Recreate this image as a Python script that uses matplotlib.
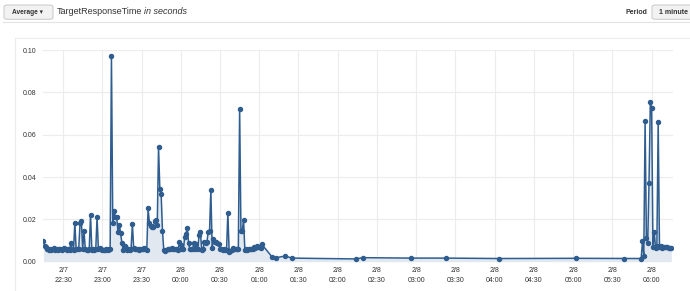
"""CloudWatch-style TargetResponseTime chart (1 minute averages)."""
import numpy as np
import pandas as pd
import matplotlib
matplotlib.use("Agg")
import matplotlib.pyplot as plt
import matplotlib.dates as mdates
from matplotlib.patches import FancyBboxPatch
from matplotlib.lines import Line2D

plt.rcParams["font.family"] = ["Liberation Sans", "DejaVu Sans"]

# ---- data -----------------------------------------------------------------
# first dense block: one point per minute starting 2/7 22:15
block1_start = "2018-02-07 22:15"
block1_values = [
    0.0098, 0.0076, 0.0070, 0.0062, 0.0056, 0.0058, 0.0055, 0.0060, 0.0065, 0.0056,
    0.0058, 0.0055, 0.0060, 0.0058, 0.0056, 0.0062, 0.0067, 0.0058, 0.0056, 0.0060,
    0.0057, 0.0087, 0.0058, 0.0056, 0.0184, 0.0060, 0.0058, 0.0062, 0.0184, 0.0190,
    0.0060, 0.0144, 0.0062, 0.0057, 0.0055, 0.0058, 0.0220, 0.0057, 0.0060, 0.0056,
    0.0058, 0.0212, 0.0060, 0.0064, 0.0058, 0.0056, 0.0057, 0.0055, 0.0058, 0.0056,
    0.0060, 0.0062, 0.0970, 0.0183, 0.0238, 0.0210, 0.0212, 0.0140, 0.0175, 0.0135,
    0.0087, 0.0055, 0.0074, 0.0066, 0.0056, 0.0060, 0.0055, 0.0062, 0.0176, 0.0065,
    0.0060, 0.0058, 0.0060, 0.0057, 0.0060, 0.0062, 0.0060, 0.0065, 0.0060, 0.0055,
    0.0252, 0.0185, 0.0170, 0.0165, 0.0163, 0.0190, 0.0195, 0.0172, 0.0540, 0.0342,
    0.0320, 0.0147, 0.0055, 0.0050, 0.0055, 0.0058, 0.0062, 0.0060, 0.0065, 0.0062,
    0.0058, 0.0060, 0.0062, 0.0056, 0.0094, 0.0080, 0.0062, 0.0058, 0.0115, 0.0132,
    0.0160, 0.0087, 0.0058, 0.0060, 0.0062, 0.0087, 0.0060, 0.0085, 0.0060, 0.0126,
    0.0138, 0.0057, 0.0058, 0.0092, 0.0090, 0.0095, 0.0140, 0.0145, 0.0340, 0.0063,
    0.0105, 0.0095, 0.0092, 0.0090, 0.0085, 0.0060, 0.0058, 0.0055, 0.0060, 0.0056,
    0.0055, 0.0232, 0.0045, 0.0050, 0.0056, 0.0063, 0.0060, 0.0058, 0.0060, 0.0058,
    0.0720, 0.0145, 0.0145, 0.0198, 0.0055, 0.0058, 0.0056, 0.0058, 0.0060, 0.0062,
    0.0060, 0.0068, 0.0064, 0.0072, 0.0068, 0.0070, 0.0066, 0.0082,
]
# sparse points overnight
sparse_times = ["2018-02-08 01:10", "2018-02-08 01:13", "2018-02-08 01:20",
                "2018-02-08 01:25", "2018-02-08 02:14", "2018-02-08 02:19",
                "2018-02-08 02:56", "2018-02-08 03:23", "2018-02-08 04:03",
                "2018-02-08 05:02", "2018-02-08 05:39", "2018-02-08 05:52"]
sparse_values = [0.0021, 0.0019, 0.0027, 0.0017, 0.0013, 0.0019,
                 0.0017, 0.0017, 0.0015, 0.0016, 0.0015, 0.0015]
# second dense block: one point per minute starting 2/8 05:53
block2_start = "2018-02-08 05:53"
block2_values = [
    0.0096, 0.0028, 0.0663, 0.0110, 0.0088, 0.0373, 0.0755, 0.0724, 0.0068, 0.0140,
    0.0065, 0.0072, 0.0661, 0.0070, 0.0072, 0.0066, 0.0070, 0.0068, 0.0070, 0.0068,
    0.0067, 0.0067, 0.0066,
]

y_ticks = [0.00, 0.02, 0.04, 0.06, 0.08, 0.10]

s1 = pd.Series(block1_values,
               index=pd.date_range(block1_start, periods=len(block1_values), freq="1min"))
s2 = pd.Series(sparse_values, index=pd.to_datetime(sparse_times))
s3 = pd.Series(block2_values,
               index=pd.date_range(block2_start, periods=len(block2_values), freq="1min"))
series = pd.concat([s1, s2, s3])

# ---- figure ---------------------------------------------------------------
W, H = 690, 291
fig = plt.figure(figsize=(W / 100, H / 100), dpi=100)


def fx(px):
    return px / W


def fy(py):
    return 1 - py / H


LINE = "#2f5d8f"
GRID = "#ececec"
TXT = "#333333"

ax = fig.add_axes([fx(43), fy(261.7), fx(673) - fx(43), fy(50) - fy(261.7)])
x = mdates.date2num(series.index.to_pydatetime())
ax.fill_between(x, 0, series.values, color="#e1e8f0", lw=0, zorder=1)
ax.plot(x, series.values, color=LINE, lw=1.1, marker="o", ms=2.9,
        mec=LINE, mfc=LINE, zorder=3)

ax.set_ylim(0, 0.10)
ax.set_xlim(mdates.date2num(pd.Timestamp("2018-02-07 22:14:40")),
            mdates.date2num(pd.Timestamp("2018-02-08 06:16:20")))
ax.set_yticks(y_ticks)
ax.set_yticklabels([f"{v:.2f}" for v in y_ticks])
ticks = pd.date_range("2018-02-07 22:30", "2018-02-08 06:00", freq="30min")
ax.set_xticks(mdates.date2num(ticks.to_pydatetime()))
ax.set_xticklabels([f"{t.month}/{t.day}\n{t:%H:%M}" for t in ticks])
ax.tick_params(length=0, labelsize=5, colors=TXT)
ax.tick_params(axis="x", pad=3.5)
ax.tick_params(axis="y", pad=4.5)
for lab in ax.get_xticklabels():
    lab.set_linespacing(1.75)
ax.grid(True, color=GRID, lw=0.8, zorder=0)
ax.set_axisbelow(True)
for sp in ax.spines.values():
    sp.set_visible(False)

# ---- header / frame decorations ------------------------------------------
def hline(y, x0, x1, c="#e2e2e2"):
    fig.add_artist(Line2D([fx(x0), fx(x1)], [fy(y), fy(y)], color=c, lw=0.8))


def vline(x0, y0, y1, c="#e2e2e2"):
    fig.add_artist(Line2D([fx(x0), fx(x0)], [fy(y0), fy(y1)], color=c, lw=0.8))


hline(21.7, 3, W)
hline(37.5, 15, W, "#ececec")
vline(15, 37.5, H, "#ececec")

for (bx0, bx1) in [(4, 53), (652, 700)]:
    fig.add_artist(FancyBboxPatch((fx(bx0), fy(19.3)), fx(bx1) - fx(bx0),
                                  fy(5) - fy(19.3),
                                  boxstyle="round,pad=0,rounding_size=0.006",
                                  transform=fig.transFigure, fc="#f2f2f2",
                                  ec="#c8c8c8", lw=0.7))

fig.text(fx(12.5), fy(12.2), "Average ▾", fontsize=4.8, color=TXT,
         fontweight="bold", va="center", ha="left",
         family=["Liberation Sans", "DejaVu Sans"])
fig.text(fx(57), fy(11.5), "TargetResponseTime", fontsize=6.5, color=TXT,
         va="center", ha="left")
fig.text(fx(144.5), fy(11.5), "in seconds", fontsize=6.5, color=TXT,
         style="italic", va="center", ha="left")
fig.text(fx(625), fy(12), "Period", fontsize=5, color=TXT, fontweight="bold",
         va="center", ha="left")
fig.text(fx(659), fy(12), "1 minute", fontsize=5, color=TXT, fontweight="bold",
         va="center", ha="left")

fig.savefig("out.png", dpi=100)
